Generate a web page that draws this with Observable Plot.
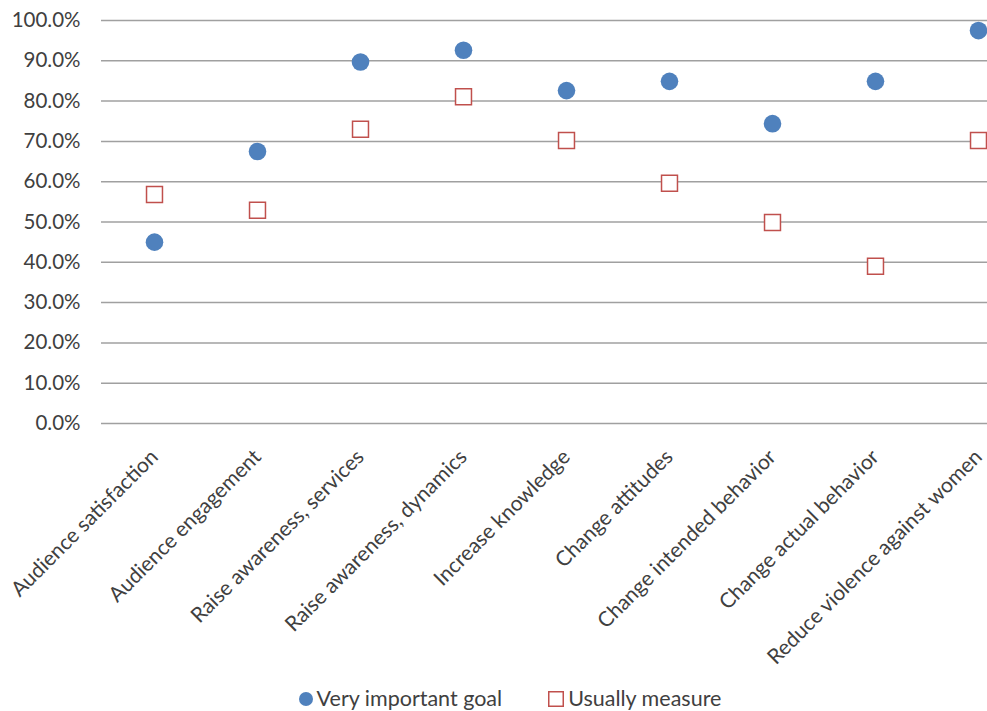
<!DOCTYPE html>
<html>
<head>
<meta charset="utf-8">
<script src="https://cdn.jsdelivr.net/npm/d3@7"></script>
<script src="https://cdn.jsdelivr.net/npm/@observablehq/plot@0.6"></script>
<style>
  html, body { margin: 0; padding: 0; background: #fff; overflow: hidden; }
  #chart svg { display: block; }
  .legend {
    display: flex; justify-content: center; align-items: center; gap: 46px;
    font-family: Lato, "Open Sans", sans-serif; font-size: 21.5px; color: #404040;
    height: 25px; line-height: 25px; padding-left: 33px;
  }
  .legend span.item { display: inline-flex; align-items: center; gap: 4px; }
</style>
</head>
<body>
<div id="chart"></div>
<div class="legend">
  <span class="item"><svg width="14" height="14"><circle cx="7" cy="7" r="7" fill="#4F81BD"></circle></svg>Very important goal</span>
  <span class="item"><svg width="16" height="16"><rect x="0.75" y="0.75" width="14.5" height="14.5" fill="#fff" stroke="#C0504D" stroke-width="1.5"></rect></svg>Usually measure</span>
</div>
<script>
// Campaign goals: share rating each as a very important goal vs. share usually measuring it
const categories = [
  "Audience satisfaction",
  "Audience engagement",
  "Raise awareness, services",
  "Raise awareness, dynamics",
  "Increase knowledge",
  "Change attitudes",
  "Change intended behavior",
  "Change actual behavior",
  "Reduce violence against women"
];
const veryImportantGoal = [0.450, 0.675, 0.897, 0.926, 0.826, 0.849, 0.744, 0.849, 0.975];
const usuallyMeasure    = [0.568, 0.529, 0.730, 0.811, 0.702, 0.596, 0.499, 0.390, 0.702];
const yTicks = [0, 0.1, 0.2, 0.3, 0.4, 0.5, 0.6, 0.7, 0.8, 0.9, 1.0];

const important = categories.map((c, i) => ({category: c, value: veryImportantGoal[i]}));
const measured  = categories.map((c, i) => ({category: c, value: usuallyMeasure[i]}));

const chart = Plot.plot({
  width: 987,
  height: 686,
  marginLeft: 101,
  marginRight: 0,
  marginTop: 20,
  marginBottom: 263,
  style: {fontFamily: "Lato, 'Open Sans', sans-serif", fontSize: "20.5px", color: "#404040", background: "#fff"},
  x: {
    type: "point",
    domain: categories,
    padding: 0.5,
    range: [101, 1031],
    label: null,
    tickSize: 0,
    tickPadding: 30,
    tickRotate: -45
  },
  y: {
    domain: [0, 1],
    ticks: yTicks,
    tickFormat: d => (d * 100).toFixed(1) + "%",
    tickSize: 0,
    tickPadding: 21,
    label: null
  },
  marks: [
    Plot.ruleY(yTicks, {stroke: "#a0a0a0", strokeWidth: 1.5}),
    Plot.dot(measured, {x: "category", y: "value", symbol: "square", r: 9, fill: "#fff", stroke: "#C0504D", strokeWidth: 1.5}),
    Plot.dot(important, {x: "category", y: "value", r: 8.8, fill: "#4F81BD", stroke: "none"})
  ]
});
// Category labels along the x axis are set a touch larger than the percentage labels
d3.select(chart).selectAll("g[aria-label='x-axis'] text, g[aria-label='x-axis tick label'] text")
  .style("font-size", "21px");
document.getElementById("chart").appendChild(chart);
</script>
</body>
</html>
